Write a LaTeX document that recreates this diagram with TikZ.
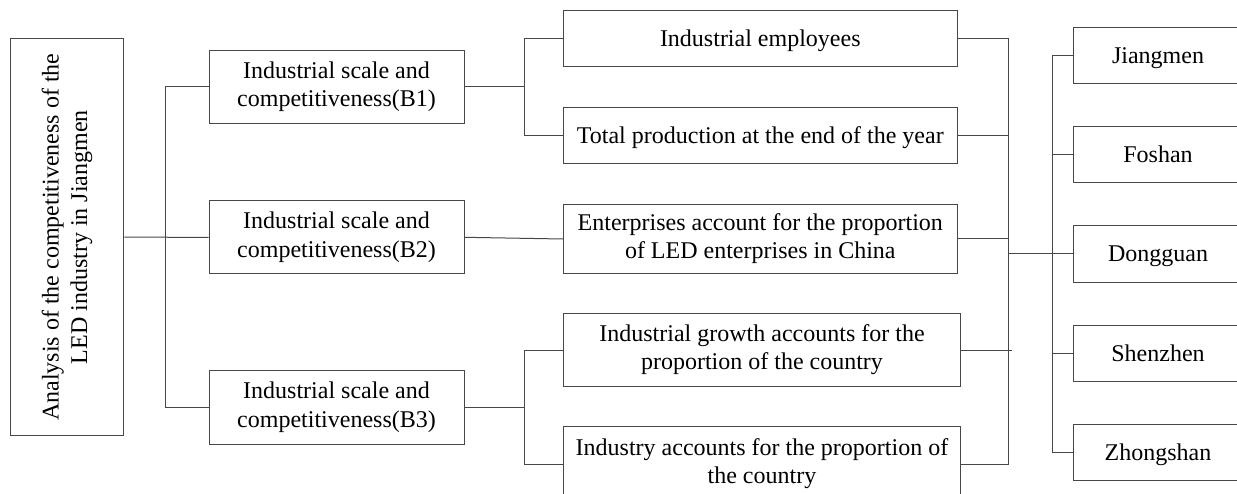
\documentclass[tikz,border=0pt]{standalone}
\usepackage{fontspec}
\setmainfont{Liberation Serif}
\begin{document}
\begin{tikzpicture}[x=1pt,y=-1pt,
  box/.style={draw=black!72, line width=1pt, rectangle, inner sep=0pt, align=center,
    font=\fontsize{24}{28.5}\selectfont,
    execute at begin node={\rule[-5.5pt]{0pt}{27pt}}},
  link/.style={draw=black!72, line width=1pt}]
\useasboundingbox (0,0) rectangle (1237,494);
% root
\node[box, rotate=90, minimum width=397, minimum height=113.3] (A) at (67.3,237.2)
  {Analysis of the competitiveness of the\\LED industry in Jiangmen};
% level B
\tikzset{bb/.style={box, minimum width=255, minimum height=73.4}}
\node[bb] (B1) at (336.5,87) {Industrial scale and\\competitiveness(B1)};
\node[bb] (B2) at (336.5,237.3) {Industrial scale and\\competitiveness(B2)};
\node[bb] (B3) at (336.5,407.3) {Industrial scale and\\competitiveness(B3)};
% indicators
\node[box, minimum width=394, minimum height=56.3] (E1) at (760.3,38.8) {Industrial employees};
\node[box, minimum width=394, minimum height=56.3] (E2) at (760.3,135.8) {Total production at the end of the year};
\node[box, minimum width=394, minimum height=68.6] (E3) at (760.3,239) {Enterprises account for the proportion\\of LED enterprises in China};
\node[box, minimum width=397.4, minimum height=73.4] (E4) at (762,350) {Industrial growth accounts for the\\proportion of the country};
\node[box, minimum width=397.4, minimum height=76] (E5) at (762,464) {Industry accounts for the proportion of\\the country};
% cities
\tikzset{cb/.style={box, minimum width=168.3, minimum height=56.4}}
\node[cb] (C1) at (1158,55.5) {Jiangmen};
\node[cb] (C2) at (1158,154.5) {Foshan};
\node[cb] (C3) at (1158,254) {Dongguan};
\node[cb] (C4) at (1158,353.5) {Shenzhen};
\node[cb] (C5) at (1158,452.5) {Zhongshan};
% junctions
\coordinate (j1) at (165.7,237.2);
\coordinate (j2) at (524.7,87);
\coordinate (j3) at (524.7,407.3);
\coordinate (r) at (1008.5,254);
\coordinate (c) at (1052.3,254);
% connectors
\draw[link] (A.south) -- (B2.west);
\draw[link] (B1.west) -| (j1) |- (B3.west);
\draw[link] (B1.east) -- (j2);
\draw[link] (E1.west) -| (j2) |- (E2.west);
\draw[link] (B2.east) -- (E3.west);
\draw[link] (B3.east) -- (j3);
\draw[link] (E4.west) -| (j3) |- (E5.west);
\draw[link] (E1.east) -| (r) |- (E5.east);
\draw[link] (E2.east) -- (E2.east -| r);
\draw[link] (E3.east) -- (E3.east -| r);
\draw[link] (E4.east) -- ([xshift=3.3pt]E4.east -| r);
\draw[link] (r) -- (c);
\draw[link] (C1.west) -| (c) |- (C5.west);
\draw[link] (C2.west) -- (C2.west -| c);
\draw[link] (C3.west) -- (c);
\draw[link] (C4.west) -- (C4.west -| c);
\end{tikzpicture}
\end{document}
